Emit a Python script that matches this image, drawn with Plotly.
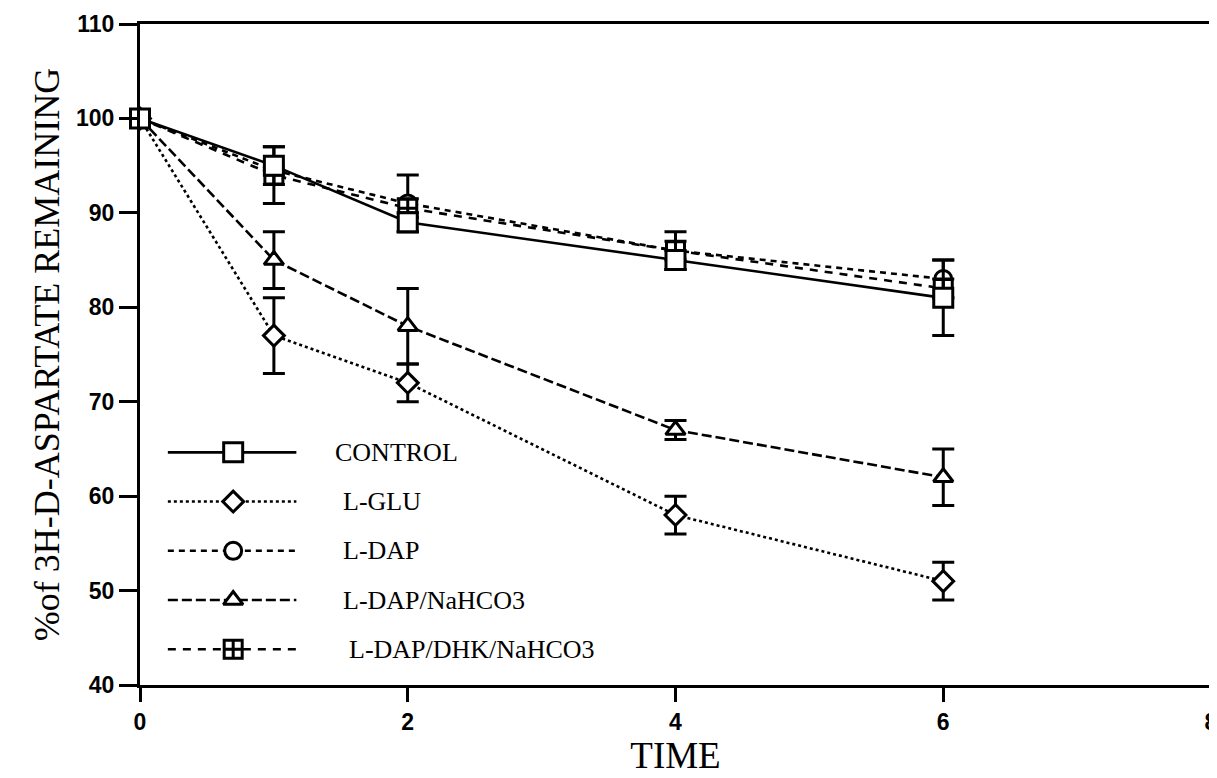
import plotly.graph_objects as go

# ---------------- data ----------------
time = [0, 1, 2, 4, 6]
series_names = ["CONTROL", "L-GLU", "L-DAP", "L-DAP/NaHCO3", "L-DAP/DHK/NaHCO3"]
control = [100, 95, 89, 85, 81]
control_err = [0, 2, 1, 1, 4]
l_glu = [100, 77, 72, 58, 51]
l_glu_err = [0, 4, 2, 2, 2]
l_dap = [100, 94.5, 91, 86, 83]
l_dap_err = [0, 0, 3, 1, 2]
l_dap_nahco3 = [100, 85, 78, 67, 62]
l_dap_nahco3_err = [0, 3, 4, 1, 3]
l_dap_dhk_nahco3 = [100, 94, 90.5, 86, 82]
l_dap_dhk_nahco3_err = [0, 3, 1, 2, 1]
x_ticks = [0, 2, 4, 6, 8]
y_ticks = [40, 50, 60, 70, 80, 90, 100, 110]

values = [control, l_glu, l_dap, l_dap_nahco3, l_dap_dhk_nahco3]
errors = [control_err, l_glu_err, l_dap_err, l_dap_nahco3_err, l_dap_dhk_nahco3_err]

# ---------------- styles ----------------
dashes = ["solid", "dot", "6px,5px", "10px,4px", "8px,7px"]
symbols = ["square", "diamond", "circle", "triangle-up", "square-cross"]
sizes = [19, 16, 17, 17, 18]
draw_order = [2, 4, 1, 3, 0]

BLACK = "#000000"
fig = go.Figure()

for i in draw_order:
    fig.add_trace(go.Scatter(
        x=time, y=values[i], mode="lines+markers", name=series_names[i],
        line=dict(color=BLACK, width=2.6, dash=dashes[i]),
        marker=dict(symbol=symbols[i], size=sizes[i], color="white",
                    line=dict(color=BLACK, width=3)),
        error_y=dict(type="data", array=errors[i], visible=True,
                     color=BLACK, thickness=3, width=11),
        showlegend=False, cliponaxis=False,
    ))

# ---------------- hand-made legend (overlay axes 0..1) ----------------
leg_x0, leg_xm, leg_x1 = 0.026, 0.087, 0.146
leg_text_x = [0.180, 0.188, 0.188, 0.188, 0.193]
leg_y0, leg_dy = 0.352, 0.0745
for i, name in enumerate(series_names):
    yy = leg_y0 - i * leg_dy
    fig.add_trace(go.Scatter(
        x=[leg_x0, leg_x1], y=[yy, yy], mode="lines", xaxis="x2", yaxis="y2",
        line=dict(color=BLACK, width=2.6, dash=dashes[i]), showlegend=False,
        hoverinfo="skip"))
    fig.add_trace(go.Scatter(
        x=[leg_xm], y=[yy], mode="markers", xaxis="x2", yaxis="y2",
        marker=dict(symbol=symbols[i], size=sizes[i], color="white",
                    line=dict(color=BLACK, width=3)),
        showlegend=False, hoverinfo="skip"))
    fig.add_annotation(x=leg_text_x[i], y=yy, xref="paper", yref="paper",
                       text=name, showarrow=False, xanchor="left", yanchor="middle",
                       font=dict(family="Liberation Serif", size=26, color=BLACK))

axis_common = dict(showgrid=False, zeroline=False, showline=True, linecolor=BLACK,
                   linewidth=3, mirror=True, ticks="outside", tickcolor=BLACK,
                   tickwidth=3, automargin=False, ticklabeloverflow="allow")

# page body has an 8px margin, so the figure is sized to fit the window
fig.update_layout(
    width=1209, height=770,
    margin=dict(l=132, r=6, t=16, b=93),
    paper_bgcolor="white", plot_bgcolor="white",
    xaxis=dict(range=[0, 8], tickvals=x_ticks, ticklen=14,
               tickfont=dict(family="Liberation Sans", size=23, color=BLACK, weight="bold"),
               title=dict(text="TIME", standoff=8,
                          font=dict(family="Liberation Serif", size=37, color=BLACK)),
               **axis_common),
    yaxis=dict(range=[40, 110], tickvals=y_ticks, ticklen=18,
               tickfont=dict(family="Liberation Sans", size=23, color=BLACK, weight="bold"),
               title=dict(text="%of 3H-D-ASPARTATE REMAINING", standoff=6,
                          font=dict(family="Liberation Serif", size=36, color=BLACK)),
               **axis_common),
    xaxis2=dict(range=[0, 1], overlaying="x", visible=False, fixedrange=True),
    yaxis2=dict(range=[0, 1], overlaying="y", visible=False, fixedrange=True),
)

fig.write_html("out.html")
